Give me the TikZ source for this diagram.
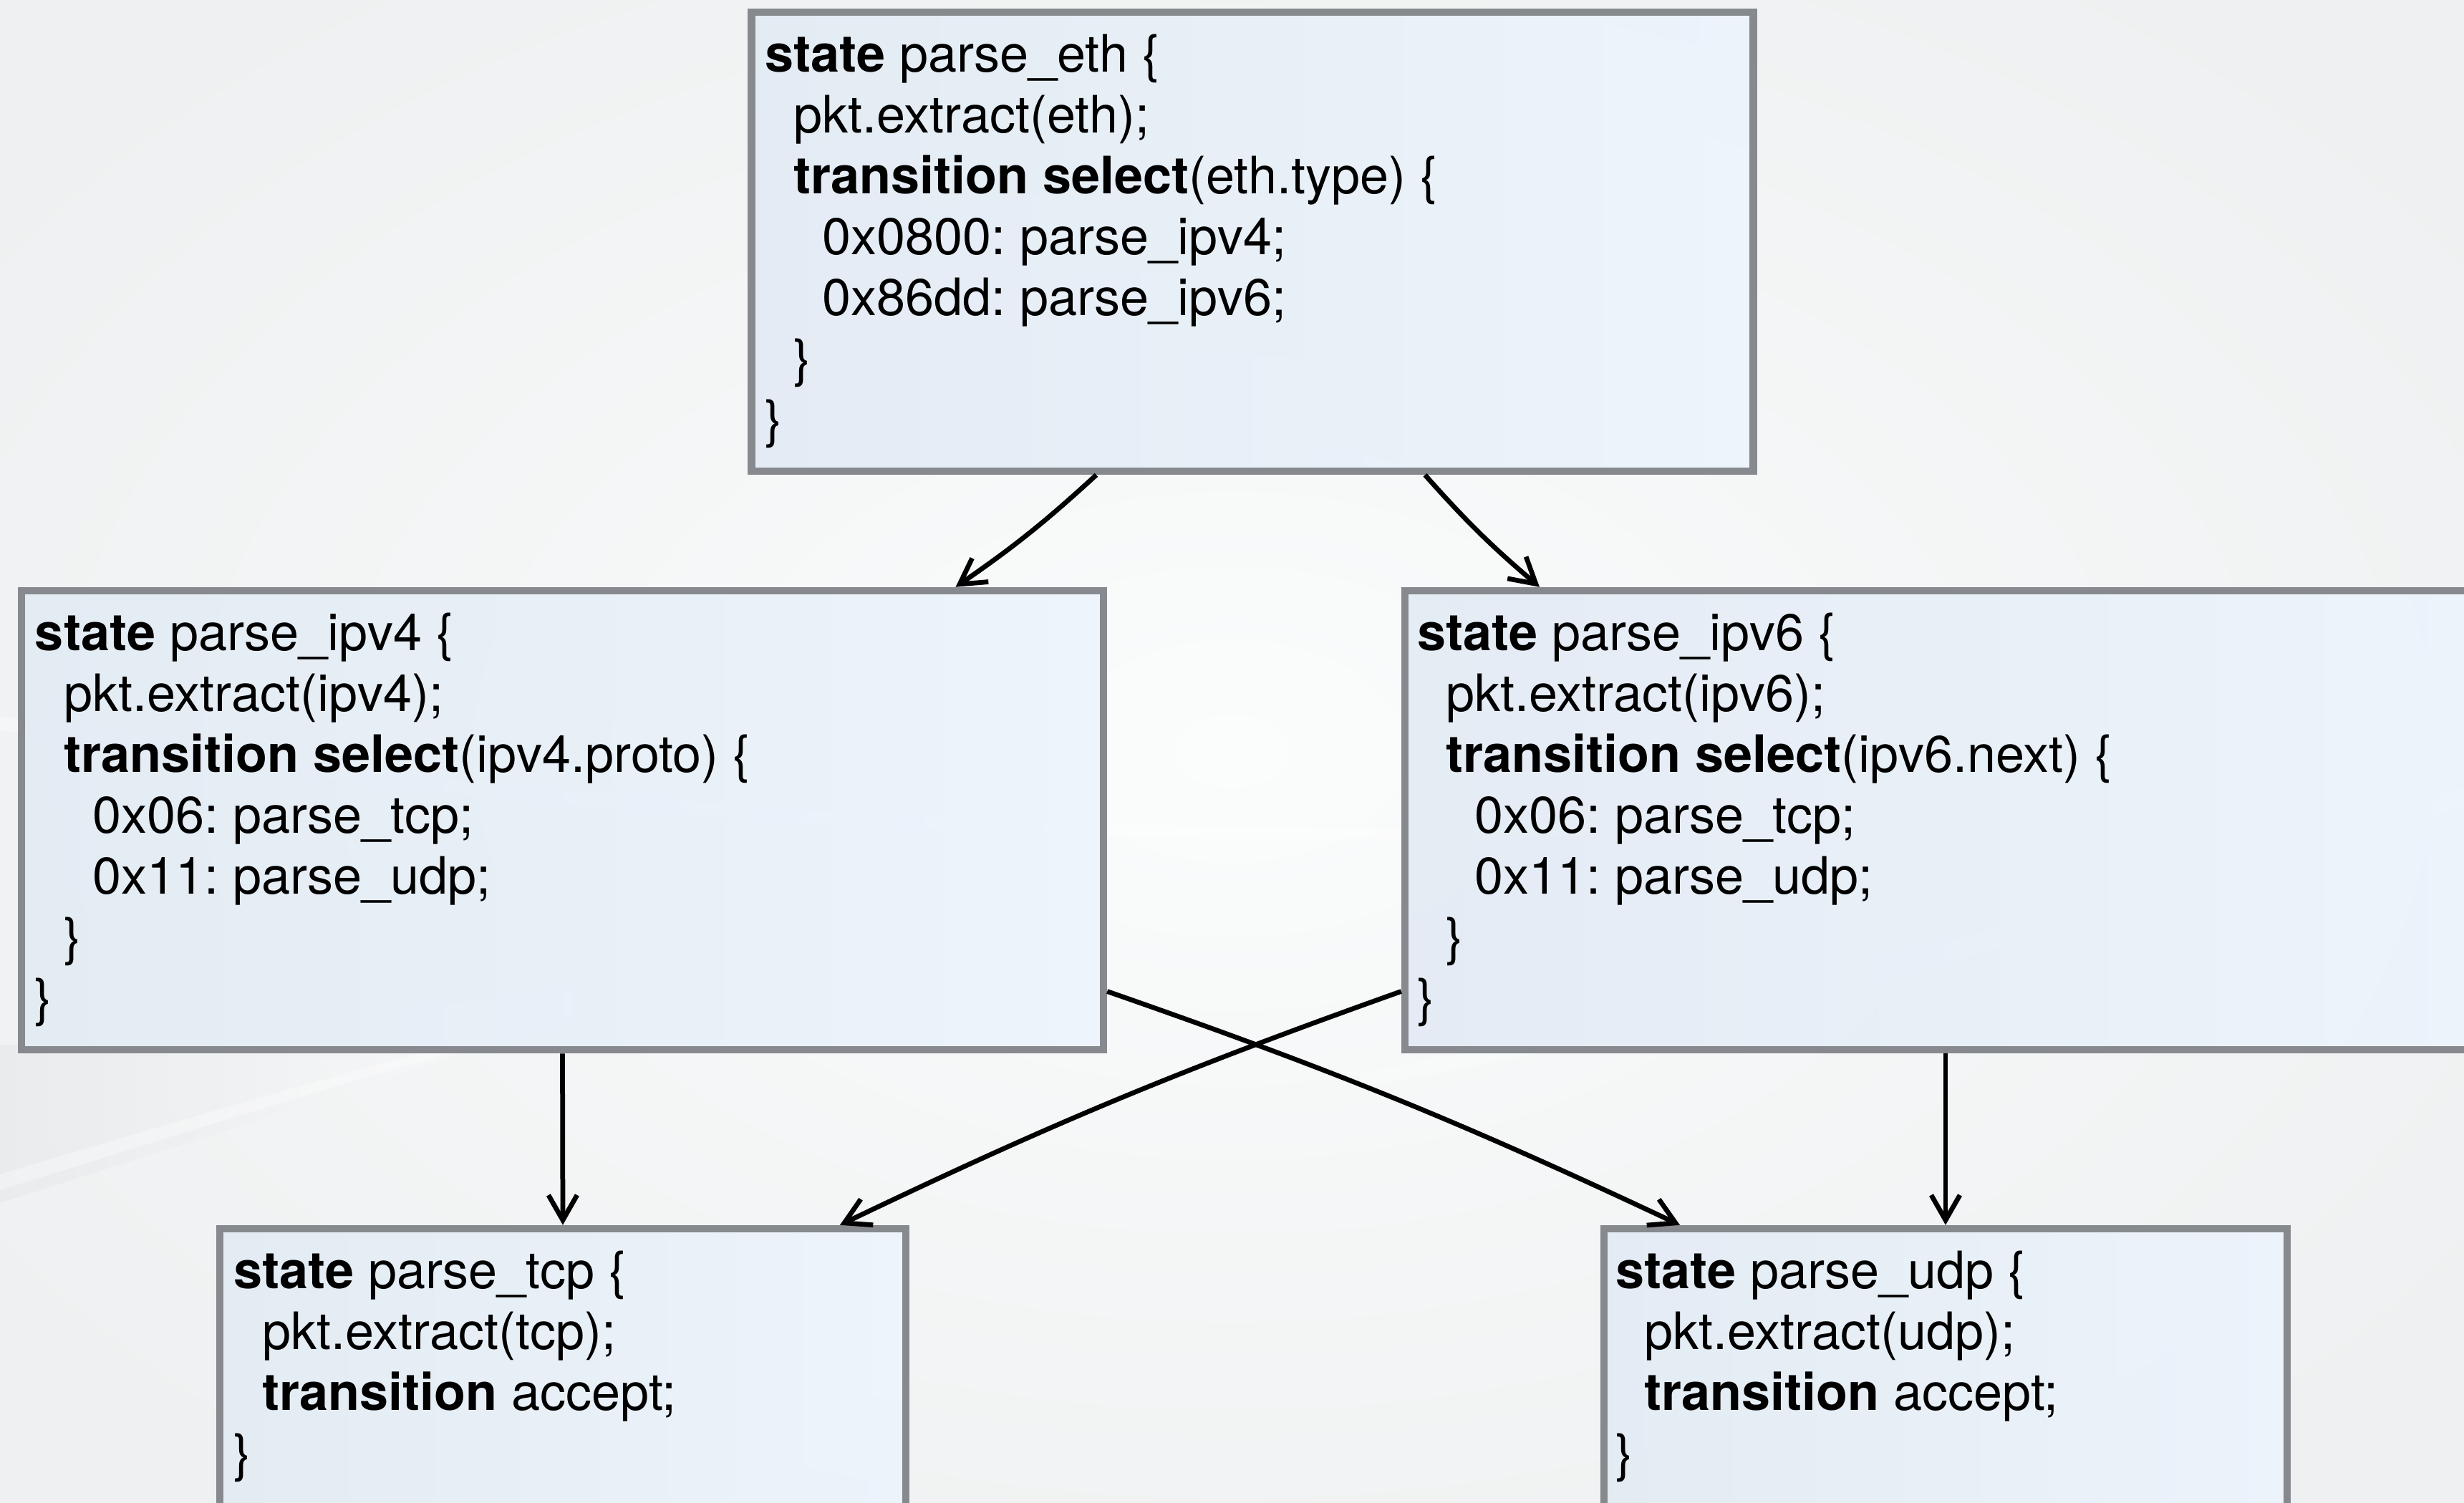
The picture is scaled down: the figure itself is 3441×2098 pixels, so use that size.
\documentclass[tikz,border=0pt]{standalone}
\usepackage{fontspec}
\setmainfont{TeX Gyre Heros}
\usetikzlibrary{arrows.meta,calc}

\definecolor{boxline}{HTML}{86898D}
\definecolor{boxfillA}{HTML}{E3EBF4}
\definecolor{boxfillB}{HTML}{EDF4FC}
\definecolor{bgedge}{HTML}{EEF0F1}
\definecolor{bgmid}{HTML}{FBFCFC}
\definecolor{bgband}{HTML}{E7E9EC}

% a block of code lines, baseline at the first line
\newcommand\codelines[1]{\vtop{\frenchspacing\baselineskip=17pt\lineskiplimit=-100pt\lineskip=0pt\relax #1}}
\newcommand\cl[1]{\hbox{#1}}
\newcommand\ia{\hspace*{.556em}}
\newcommand\ib{\hspace*{1.112em}}

\begin{document}
\frenchspacing
\begin{tikzpicture}[x=0.2pt,y=-0.2pt,
  statebox/.style={draw=boxline, line width=2.1pt, left color=boxfillA,
    right color=boxfillB, fill opacity=.93, inner sep=0pt},
  code/.style={anchor=base west, inner sep=0pt, text=black,
    font=\fontsize{14.4}{17}\selectfont},
  arr/.style={line width=1.35pt, -{Straight Barb[length=7pt,width=8pt]}}]

\useasboundingbox (0,0) rectangle (3441,2098);
\clip (0,0) rectangle (3441,2098);

% soft backdrop
\shade[inner color=bgmid, outer color=bgedge] (-400,-300) rectangle (3841,2398);
\shade[left color=bgband, right color=bgmid, opacity=.7]
  (0,1460) .. controls (250,1450) and (500,1420) .. (800,1380)
  -- (800,1420) .. controls (500,1520) and (250,1600) .. (0,1680) -- cycle;
\fill[white, opacity=.35]
  (0,1640) .. controls (200,1580) and (400,1520) .. (700,1440)
  -- (700,1450) .. controls (400,1535) and (200,1600) .. (0,1662) -- cycle;
\fill[white, opacity=.35]
  (0,1000) .. controls (700,1120) and (1500,1180) .. (2400,1150)
  -- (2400,1162) .. controls (1500,1195) and (700,1140) .. (0,1020) -- cycle;
\fill[white, opacity=.3]
  (1900,1500) .. controls (2500,1380) and (3000,1250) .. (3441,1100)
  -- (3441,1125) .. controls (3000,1285) and (2500,1410) .. (1900,1518) -- cycle;

% parser states
\node[statebox, minimum width=279.8pt, minimum height=128.2pt] (eth) at (1749,337.5) {};
\node[statebox, minimum width=302.2pt, minimum height=128.2pt] (ipv4) at (785.5,1145.5) {};
\node[statebox, minimum width=302pt, minimum height=128.2pt] (ipv6) at (2717,1145.5) {};
\node[statebox, minimum width=191.6pt, minimum height=88.8pt] (tcp) at (786,1938) {};
\node[statebox, minimum width=190.8pt, minimum height=88.8pt] (udp) at (2717,1938) {};

\node[code] (ethcode) at (1067,100) {\codelines{%
  \cl{\textbf{state} parse\_eth \{}%
  \cl{\ia pkt.extract(eth);}%
  \cl{\ia\textbf{transition select}(eth.type) \{}%
  \cl{\ib 0x0800: parse\_ipv4;}%
  \cl{\ib 0x86dd: parse\_ipv6;}%
  \cl{\ia\}}%
  \cl{\}}}};

\node[code] (ipv4code) at (48,908) {\codelines{%
  \cl{\textbf{state} parse\_ipv4 \{}%
  \cl{\ia pkt.extract(ipv4);}%
  \cl{\ia\textbf{transition select}(ipv4.proto) \{}%
  \cl{\ib 0x06: parse\_tcp;}%
  \cl{\ib 0x11: parse\_udp;}%
  \cl{\ia\}}%
  \cl{\}}}};

\node[code] (ipv6code) at (1978,908) {\codelines{%
  \cl{\textbf{state} parse\_ipv6 \{}%
  \cl{\ia pkt.extract(ipv6);}%
  \cl{\ia\textbf{transition select}(ipv6.next) \{}%
  \cl{\ib 0x06: parse\_tcp;}%
  \cl{\ib 0x11: parse\_udp;}%
  \cl{\ia\}}%
  \cl{\}}}};

\node[code] (tcpcode) at (325,1799) {\codelines{%
  \cl{\textbf{state} parse\_tcp \{}%
  \cl{\ia pkt.extract(tcp);}%
  \cl{\ia\textbf{transition} accept;}%
  \cl{\}}}};

\node[code] (udpcode) at (2255,1799) {\codelines{%
  \cl{\textbf{state} parse\_udp \{}%
  \cl{\ia pkt.extract(udp);}%
  \cl{\ia\textbf{transition} accept;}%
  \cl{\}}}};

% transitions
\draw[arr] ($(eth.south)+(-218,0)$) to[bend left=4] ($(ipv4.north)+(549,0)$);
\draw[arr] ($(eth.south)+(241,0)$) to[bend right=4] ($(ipv6.north)+(-567,0)$);
\draw[arr] ($(ipv4.east)+(0,239)$) to[bend left=3] ($(udp.north)+(-371,0)$);
\draw[arr] ($(ipv6.west)+(0,239)$) to[bend right=3] ($(tcp.north)+(387,0)$);
\draw[arr] (ipv4.south) -- (tcp.north);
\draw[arr] (ipv6.south) -- (udp.north);
\end{tikzpicture}
\end{document}
